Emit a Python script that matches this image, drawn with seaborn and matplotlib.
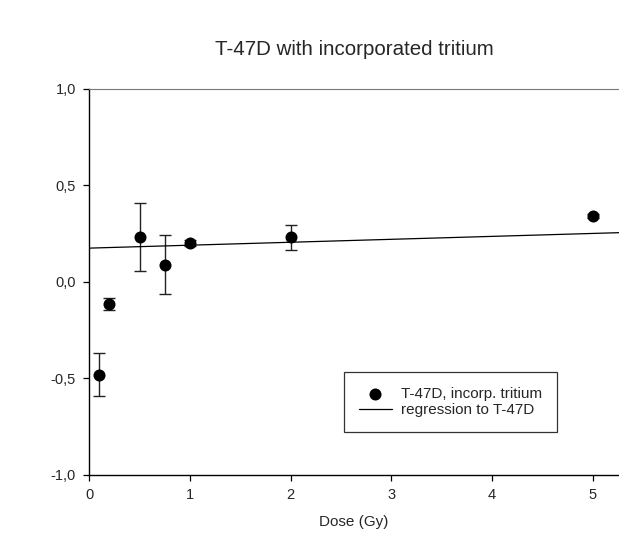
import matplotlib
matplotlib.use("Agg")
import matplotlib.pyplot as plt
import seaborn as sns
import numpy as np
import pandas as pd
from matplotlib.ticker import FuncFormatter

# Data
dose = [0.1, 0.2, 0.5, 0.75, 1.0, 2.0, 5.0]
value = [-0.481, -0.116, 0.232, 0.089, 0.200, 0.230, 0.341]
error = [0.111, 0.031, 0.175, 0.152, 0.017, 0.065, 0.010]
reg_intercept = 0.174
reg_slope = 0.0152
x_max = 5.26

sns.set_style("ticks")
plt.rcParams['font.family'] = ['Liberation Sans', 'DejaVu Sans']

fig = plt.figure(figsize=(6.19, 5.40), dpi=100)
ax = fig.add_axes([89.3 / 619, 1 - 475 / 540, 1 - 89.3 / 619, (475 - 88.5) / 540])

df = pd.DataFrame({"dose": dose, "value": value, "error": error})

ax.errorbar(df["dose"], df["value"], yerr=df["error"], fmt="none",
            ecolor="#222222", elinewidth=1.0, capsize=4.2, capthick=1.0, zorder=2)
sns.scatterplot(data=df, x="dose", y="value", ax=ax, color="black", s=75,
                edgecolor="black", linewidth=0, zorder=3,
                label="T-47D, incorp. tritium")

reg_x = np.array([0.0, x_max])
reg_df = pd.DataFrame({"x": reg_x, "y": reg_intercept + reg_slope * reg_x})
sns.lineplot(data=reg_df, x="x", y="y", ax=ax, color="black", linewidth=0.9,
             label="regression to T-47D", zorder=2)

ax.set_xlim(0, x_max)
ax.set_ylim(-1.0, 1.0)
ax.set_xticks([0, 1, 2, 3, 4, 5])
ax.set_yticks([-1.0, -0.5, 0.0, 0.5, 1.0])
ax.yaxis.set_major_formatter(FuncFormatter(lambda v, p: f"{v:.1f}".replace(".", ",")))
ax.tick_params(axis="both", labelsize=10.5, length=4.5, width=0.9, color="black",
               direction="out", pad=5)

for side in ["left", "bottom"]:
    ax.spines[side].set_color("black")
    ax.spines[side].set_linewidth(1.0)
ax.spines["top"].set_visible(True)
ax.spines["top"].set_color("#777777")
ax.spines["top"].set_linewidth(0.8)
ax.spines["right"].set_visible(False)

ax.set_xlabel("Dose (Gy)", fontsize=11, labelpad=9)
ax.set_ylabel("")
ax.set_title("T-47D with incorporated tritium", fontsize=14.8, pad=24)

leg = ax.legend(loc="upper left", bbox_to_anchor=(0.481, 0.266), fontsize=11,
                frameon=True, fancybox=False, edgecolor="black",
                handlelength=2.2, handletextpad=0.6, borderpad=0.95,
                labelspacing=0.15, borderaxespad=0)
leg.get_frame().set_linewidth(0.9)

fig.savefig("out.png", dpi=100)
